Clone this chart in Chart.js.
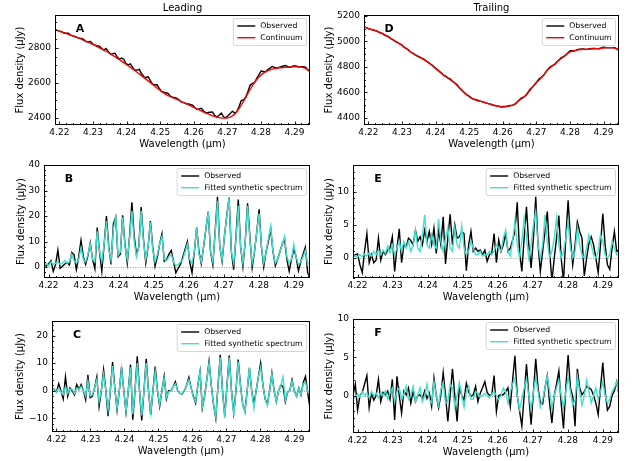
<!DOCTYPE html>
<html>
<head>
<meta charset="utf-8">
<script src="https://cdn.jsdelivr.net/npm/chart.js@4.4.1/dist/chart.umd.min.js"></script>
<style>
  html, body { margin: 0; padding: 0; background: #fff; }
  #fig { position: relative; width: 632px; height: 461px; }
  #fig canvas { position: absolute; left: 0; top: 0; }
</style>
</head>
<body>
<div id="fig">
  <canvas id="panelA" width="632" height="461"></canvas>
  <canvas id="panelB" width="632" height="461"></canvas>
  <canvas id="panelC" width="632" height="461"></canvas>
  <canvas id="panelD" width="632" height="461"></canvas>
  <canvas id="panelE" width="632" height="461"></canvas>
  <canvas id="panelF" width="632" height="461"></canvas>
</div>
<script>
'use strict';

/* =====================================================
   Wavelength grid (µm) — one sample per detector pixel
===================================================== */
const WL_START = 4.2187;
const WL_STEP = 0.00066;
const N_PIX = 116;
const WAVELENGTH = Array.from({ length: N_PIX }, (_, i) => +(WL_START + i * WL_STEP).toFixed(5));

const X_MIN = 4.2187, X_MAX = 4.2946;
const X_TICKS = [4.22, 4.23, 4.24, 4.25, 4.26, 4.27, 4.28, 4.29];

/* =====================================================
   Leading hemisphere
===================================================== */
// fitted continuum (µJy)
const LEAD_CONTINUUM = [
  2904, 2900, 2895, 2891, 2887, 2883, 2878, 2874, 2869, 2864,
  2859, 2854, 2849, 2843, 2837, 2832, 2826, 2820, 2814, 2808,
  2801, 2795, 2788, 2781, 2774, 2766, 2758, 2750, 2742, 2734,
  2725, 2716, 2707, 2698, 2689, 2680, 2671, 2661, 2652, 2642,
  2632, 2622, 2612, 2602, 2592, 2582, 2572, 2562, 2552, 2543,
  2535, 2528, 2522, 2516, 2511, 2506, 2500, 2494, 2488, 2482,
  2476, 2470, 2464, 2458, 2452, 2446, 2440, 2434, 2428, 2423,
  2418, 2413, 2409, 2405, 2402, 2400, 2399, 2399, 2401, 2405,
  2412, 2422, 2436, 2453, 2473, 2495, 2518, 2541, 2563, 2584,
  2603, 2620, 2634, 2646, 2656, 2664, 2670, 2675, 2679, 2682,
  2684, 2686, 2687, 2688, 2689, 2690, 2691, 2692, 2692, 2692,
  2692, 2691, 2688, 2683, 2676, 2669
];
// continuum-subtracted spectrum (µJy)
const LEAD_RESID_OBS = [
  1.0, 0.4, 1.2, 2.5, -1.7, 1.0, 6.6, -0.5, 0.3, 1.2,
  1.8, 0.8, 5.7, 4.8, -1.0, 4.0, 10.5, 4.0, 1.0, 4.5,
  9.5, 3.0, -0.7, 15.5, 6.0, -1.7, 9.0, 20.0, 8.0, 1.0,
  17.0, 19.5, 4.0, 5.0, 20.3, 9.0, 1.5, 12.0, 25.4, 12.0,
  4.8, 8.0, 23.5, 11.0, 1.6, 8.0, 18.0, 8.0, 0.3, 4.0,
  9.0, 13.0, 2.2, 3.0, 5.0, 6.5, 2.0, -2.3, -0.5, 1.0,
  4.0, 7.0, 10.0, 2.0, -2.3, 6.0, 15.5, 6.0, 1.3, 8.0,
  15.0, 21.7, 6.0, 0.9, 14.0, 27.5, 8.0, 2.2, 12.0, 20.0,
  27.2, 6.0, -1.0, 12.0, 26.5, 8.0, 0.2, 10.0, 25.0, 12.0,
  -0.2, 6.0, 14.0, 22.6, 8.0, 0.0, 6.0, 10.0, 15.2, 6.0,
  0.5, 3.0, 6.0, 9.0, 11.0, 3.0, -1.7, 3.0, 7.0, 4.0,
  -1.5, 2.0, 5.0, 7.8, -2.3, -4.0
];
const LEAD_RESID_FIT = [
  0.5, 1.5, 0.5, 2.0, 1.0, 1.5, 2.0, 1.0, 1.5, 2.5,
  1.5, 2.0, 5.0, 2.5, 1.5, 3.0, 7.5, 3.0, 2.0, 5.0,
  9.0, 3.0, 2.0, 14.0, 6.0, 2.0, 9.0, 18.0, 7.0, 2.5,
  15.0, 19.5, 4.5, 6.0, 19.5, 8.0, 3.0, 11.0, 22.0, 10.0,
  4.0, 8.0, 22.0, 10.0, 3.0, 8.0, 17.5, 7.0, 2.0, 5.0,
  9.0, 12.0, 3.0, 2.5, 4.0, 5.0, 2.0, 0.5, 1.0, 2.0,
  3.0, 6.0, 9.0, 3.0, 1.5, 6.0, 15.5, 5.0, 2.0, 8.0,
  15.0, 21.5, 6.0, 2.0, 13.0, 26.0, 8.0, 3.0, 12.0, 20.0,
  27.0, 6.0, 1.5, 11.0, 24.0, 8.0, 1.5, 10.0, 24.0, 11.0,
  1.5, 6.0, 14.0, 21.0, 8.0, 1.5, 6.0, 11.0, 16.0, 6.0,
  1.5, 3.0, 6.0, 9.0, 12.0, 4.0, 1.5, 3.0, 9.0, 4.0,
  1.0, 2.0, 4.0, 6.5, 1.0, 2.0
];
// line residuals after removing the broad baseline (µJy)
const LEAD_DETREND_OBS = [
  0.3, 0.5, -0.5, 2.5, 0.0, -3.0, 5.0, -2.0, 1.0, 0.0,
  -1.5, 2.2, 0.5, 2.2, 0.0, -3.3, 5.8, -2.5, -2.0, 1.0,
  5.0, -5.7, 0.0, 7.6, 0.0, -9.3, 0.0, 10.4, 1.0, -7.0,
  0.0, 8.7, 0.0, -7.8, 0.0, 9.5, -10.5, 0.0, 12.5, 0.0,
  -10.8, 0.0, 11.6, 0.0, -8.7, 0.0, 8.8, 0.0, -5.7, 0.0,
  5.2, -3.0, 0.0, 0.0, 1.5, 3.2, 0.0, -1.0, -1.2, 0.0,
  2.0, 4.8, 1.0, -2.0, -4.5, 2.0, 7.0, -6.3, -2.0, 4.0,
  10.7, 2.0, -5.0, -10.0, 2.0, 13.0, 0.0, -9.3, 2.0, 12.8,
  0.0, -8.0, 0.0, 11.3, 2.0, -5.0, -7.5, 0.0, 8.2, 0.0,
  -5.0, 0.0, 5.0, 10.0, 2.0, -3.0, -5.0, 0.0, 6.4, 0.0,
  -4.0, 0.0, 2.0, 1.5, -4.0, -0.5, 0.0, 4.0, 0.0, -2.0,
  1.0, -1.5, 3.0, 5.2, -1.0, -6.3
];
const LEAD_DETREND_FIT = [
  0.0, 0.5, -0.5, 1.0, -0.5, -1.5, 1.5, -1.0, 0.5, 0.5,
  -1.0, 1.0, 0.5, 1.5, 0.0, -2.0, 3.5, -2.0, -1.5, 1.0,
  4.0, -4.0, 0.0, 6.0, 0.0, -7.0, 0.0, 9.0, 0.5, -6.5,
  0.0, 8.0, 0.0, -7.5, 0.0, 8.5, -8.5, 0.0, 10.0, 0.0,
  -9.0, 0.0, 10.0, 0.0, -8.0, 0.0, 7.0, 0.0, -5.0, 0.0,
  4.5, -2.5, -0.5, 0.0, 1.5, 2.5, 0.0, -1.0, -1.0, 0.0,
  2.0, 4.0, 1.0, -2.5, -4.0, 2.0, 7.0, -6.0, -2.0, 4.0,
  10.0, 2.0, -5.0, -9.5, 2.0, 12.0, 0.0, -10.0, 2.0, 12.0,
  0.0, -9.0, 0.0, 10.5, 2.0, -5.0, -8.0, 0.0, 8.5, 0.0,
  -6.5, 0.0, 5.0, 8.5, 2.0, -3.0, -5.5, 0.0, 6.0, 0.0,
  -4.0, 0.0, 2.0, 5.0, -3.5, -0.5, 0.0, 3.5, 0.0, -2.0,
  1.0, -1.5, 2.5, 3.0, -0.5, 0.5
];

/* =====================================================
   Trailing hemisphere
===================================================== */
const TRAIL_CONTINUUM = [
  5115, 5108, 5100, 5096, 5092, 5085, 5078, 5071, 5064, 5055,
  5045, 5035, 5024, 5013, 5002, 4992, 4981, 4970, 4957, 4944,
  4930, 4917, 4905, 4895, 4884, 4875, 4866, 4856, 4845, 4833,
  4820, 4806, 4791, 4776, 4762, 4747, 4732, 4720, 4708, 4697,
  4685, 4670, 4652, 4633, 4615, 4598, 4583, 4570, 4558, 4549,
  4541, 4535, 4530, 4526, 4521, 4515, 4510, 4505, 4500, 4495,
  4490, 4487, 4485, 4485, 4487, 4490, 4493, 4497, 4505, 4518,
  4535, 4548, 4560, 4577, 4597, 4618, 4640, 4662, 4680, 4697,
  4715, 4735, 4758, 4778, 4793, 4808, 4822, 4838, 4853, 4866,
  4880, 4895, 4908, 4918, 4923, 4927, 4931, 4934, 4936, 4938,
  4938, 4939, 4940, 4941, 4942, 4943, 4944, 4946, 4948, 4950,
  4951, 4951, 4950, 4948, 4940, 4930
];
const TRAIL_RESID_OBS = [
  0.2, 0.5, 0.6, -1.0, -2.2, 1.0, 3.7, -0.7, 0.5, -0.7,
  -0.3, 3.0, -0.3, 1.0, 0.5, 1.2, 1.5, 3.2, -2.0, 1.5,
  4.4, -0.7, 2.0, 1.7, 3.0, 2.6, 2.0, 4.2, 2.5, 3.2,
  2.0, 4.2, 2.5, 4.0, 2.0, 4.5, 0.7, 4.2, 2.0, 6.2,
  -0.9, 3.0, 6.6, 2.0, 5.0, 3.0, 3.2, 4.0, 3.7, -1.9,
  2.0, 4.0, 1.0, 1.5, 1.0, 1.2, 0.5, 1.2, -0.5, 0.5,
  0.8, 3.7, -0.7, 2.7, 1.0, 2.0, 3.7, 1.0, 1.5, 2.7,
  4.0, 8.4, 1.0, -2.0, 3.0, 7.7, 2.0, -1.5, 3.0, 9.2,
  2.0, -2.0, 1.0, 4.0, 7.0, 1.0, -3.5, 0.0, 3.0, 6.4,
  0.0, -3.5, 3.0, 8.7, 3.0, -1.0, 2.0, 5.4, 4.0, 3.0,
  -2.7, 0.0, 2.2, 3.2, 2.0, 0.0, -2.2, 2.0, 6.7, 2.0,
  -1.0, -1.7, 1.5, 4.0, 1.0, 1.2
];
const TRAIL_RESID_FIT = [
  0.3, 0.3, 0.2, 0.5, 0.2, 0.6, 0.3, 0.8, 0.3, 1.0,
  0.5, 1.2, 0.5, 1.2, 0.7, 1.8, 0.8, 2.0, 0.5, 1.5,
  2.5, 1.0, 2.5, 1.5, 2.5, 1.0, 2.0, 4.2, 1.5, 1.0,
  3.5, 6.5, 2.0, 1.5, 3.5, 2.0, 1.5, 5.9, 2.5, 1.0,
  3.0, 4.5, 1.5, 1.0, 4.5, 2.0, 1.5, 4.8, 1.5, 0.5,
  1.0, 2.5, 1.5, 0.5, 0.5, 1.0, 0.3, 0.5, 0.5, 1.0,
  0.5, 1.0, 2.0, 1.5, 1.0, 3.0, 4.2, 1.0, 0.3, 2.5,
  5.5, 2.0, 0.0, 2.5, 6.0, 3.0, 0.0, 2.0, 5.0, 7.0,
  2.0, 0.0, 2.0, 6.5, 2.5, 0.0, 1.0, 3.0, 6.0, 2.0,
  0.0, 1.0, 3.0, 5.5, 1.5, 0.0, 1.0, 4.5, 2.0, 0.5,
  0.0, 1.5, 3.5, 2.0, 0.5, 0.0, 1.0, 3.5, 2.5, 0.5,
  0.0, 0.5, 2.5, 1.5, 0.5, 1.0
];
const TRAIL_DETREND_OBS = [
  0.0, 1.5, -1.9, 0.0, 0.4, 1.5, 2.6, -1.6, 0.3, -0.6,
  0.0, 2.1, -0.8, 0.4, 0.1, 0.6, -0.5, 2.1, -3.2, 2.5,
  0.0, -2.3, 0.6, 0.1, 1.0, -1.0, 0.6, -0.8, 0.0, 0.1,
  -0.4, 0.6, -0.4, 0.3, -1.4, 2.3, 0.0, -1.6, 0.1, 3.0,
  0.0, -3.4, 0.0, 3.5, 0.0, -3.4, 1.2, 0.0, -0.6, 1.6,
  0.5, -0.1, 0.1, 1.2, -0.8, 0.3, 1.0, 1.8, 0.4, 0.0,
  0.1, 2.6, -2.1, 0.0, 0.1, 0.1, 0.5, 1.0, -1.4, 2.0,
  5.2, 0.0, -2.0, -4.0, 0.0, 4.1, 0.0, -3.8, 0.5, 4.8,
  1.0, -1.0, -1.1, 1.0, 2.6, -1.0, -3.6, 0.0, 1.5, 3.2,
  -1.0, -4.3, 1.0, 5.3, 1.0, -0.1, -4.0, 3.5, 1.0, 0.1,
  0.5, 1.2, 1.0, 0.8, 0.0, -1.0, -2.5, 1.0, 4.3, 0.5,
  -1.9, -1.4, 0.0, 0.6, 1.8, 0.1
];
const TRAIL_DETREND_FIT = [
  -0.2, -0.3, 0.2, -0.2, 0.5, 0.0, 0.3, -0.3, 0.5, 0.0,
  0.3, -0.3, 0.4, 0.0, 0.6, -0.5, 0.3, 1.0, -0.8, 0.5,
  1.0, -0.5, 0.2, 1.2, -0.5, 0.0, 1.2, -0.8, 0.0, 1.0,
  -0.8, 0.0, 1.5, -0.5, -1.0, 1.8, 0.0, -1.3, 0.8, 1.7,
  -1.0, -0.8, 1.5, 1.0, -1.5, 0.0, 1.7, 0.0, -1.5, 0.5,
  1.2, -0.5, -0.5, 0.5, 0.3, -0.2, 0.0, 0.3, 0.0, -0.3,
  0.2, 0.5, 0.0, -0.5, 0.0, 1.0, 0.5, -1.0, 0.5, 1.5,
  2.3, 0.0, -1.8, -0.5, 1.0, 2.2, 0.0, -1.8, 0.5, 2.4,
  0.5, -1.5, -0.5, 1.0, 2.5, 0.5, -1.7, 0.0, 1.0, 2.0,
  0.0, -1.5, 0.5, 2.4, 0.5, -1.3, -0.5, 2.5, 0.5, -1.3,
  0.0, 2.0, 0.5, -1.0, 0.0, 1.0, -0.5, 0.5, 1.8, 0.0,
  -1.0, -0.5, 0.5, 1.0, 1.8, 0.0
];

// observed flux = continuum + continuum-subtracted spectrum
const LEAD_OBSERVED = LEAD_CONTINUUM.map((c, i) => c + LEAD_RESID_OBS[i]);
const TRAIL_OBSERVED = TRAIL_CONTINUUM.map((c, i) => c + TRAIL_RESID_OBS[i]);

/* y tick labels per panel */
const A_Y_TICKS = [2400, 2600, 2800];
const B_Y_TICKS = [0, 10, 20, 30, 40];
const C_Y_TICKS = [-10, 0, 10, 20];
const D_Y_TICKS = [4400, 4600, 4800, 5000, 5200];
const E_Y_TICKS = [0, 5, 10];
const F_Y_TICKS = [0, 5, 10];

/* =====================================================
   Styles
===================================================== */
const FONT = "'DejaVu Sans', sans-serif";
const OBS_COLOR = '#000000';
const CONT_COLOR = '#ff0000';
const FIT_COLOR = '#40e0d0';
const LINE_W = 1.4;
const Y_TITLE = 'Flux density (\u03bcJy)';
const X_TITLE = 'Wavelength (\u03bcm)';

const PANELS = [
  { id: 'panelA', letter: 'A', head: 'Leading', area: [55, 15, 310, 125], titleX: 20,
    yRange: [2360, 2988], yTicks: A_Y_TICKS, yMinor: 50, zero: false,
    series: [['Observed', LEAD_OBSERVED, OBS_COLOR], ['Continuum', LEAD_CONTINUUM, CONT_COLOR]] },
  { id: 'panelB', letter: 'B', area: [44, 165, 310, 278], titleX: 21,
    yRange: [-4.3, 40], yTicks: B_Y_TICKS, yMinor: 2, zero: true,
    series: [['Observed', LEAD_RESID_OBS, OBS_COLOR], ['Fitted synthetic spectrum', LEAD_RESID_FIT, FIT_COLOR]] },
  { id: 'panelC', letter: 'C', area: [52, 321, 310, 432], titleX: 20.5,
    yRange: [-15, 25.3], yTicks: C_Y_TICKS, yMinor: 2, zero: true,
    series: [['Observed', LEAD_DETREND_OBS, OBS_COLOR], ['Fitted synthetic spectrum', LEAD_DETREND_FIT, FIT_COLOR]] },
  { id: 'panelD', letter: 'D', head: 'Trailing', area: [364, 15, 619, 125], titleX: 329,
    yRange: [4342, 5208], yTicks: D_Y_TICKS, yMinor: 50, zero: false,
    series: [['Observed', TRAIL_OBSERVED, OBS_COLOR], ['Continuum', TRAIL_CONTINUUM, CONT_COLOR]] },
  { id: 'panelE', letter: 'E', area: [353, 165, 619, 278], titleX: 329,
    yRange: [-3, 14], yTicks: E_Y_TICKS, yMinor: 1, zero: true,
    series: [['Observed', TRAIL_RESID_OBS, OBS_COLOR], ['Fitted synthetic spectrum', TRAIL_RESID_FIT, FIT_COLOR]] },
  { id: 'panelF', letter: 'F', area: [353, 319, 619, 433], titleX: 329,
    yRange: [-4.9, 10], yTicks: F_Y_TICKS, yMinor: 1, zero: true,
    series: [['Observed', TRAIL_DETREND_OBS, OBS_COLOR], ['Fitted synthetic spectrum', TRAIL_DETREND_FIT, FIT_COLOR]] }
];

const X_AXIS_H = 25;

/* minor tick values between min and max, skipping the majors */
function minorValues(min, max, step, majors) {
  const out = [];
  for (let k = Math.ceil(min / step - 1e-9); k * step <= max + 1e-9; k++) {
    const v = k * step;
    if (!majors.some(m => Math.abs(m - v) < step * 1e-3)) out.push(v);
  }
  return out;
}

/* =====================================================
   Frame, inward ticks, zero line, legend, panel letter
===================================================== */
const panelDecor = {
  id: 'panelDecor',
  beforeDatasetsDraw(chart, args, o) {
    if (!o.zero) return;
    const { ctx, chartArea: a, scales: { y } } = chart;
    const py = Math.round(y.getPixelForValue(0)) + 0.5;
    ctx.save();
    ctx.strokeStyle = '#8c8c8c'; ctx.lineWidth = 0.8; ctx.setLineDash([1, 1.4]);
    ctx.beginPath(); ctx.moveTo(a.left, py); ctx.lineTo(a.right, py); ctx.stroke();
    ctx.restore();
  },
  afterDraw(chart, args, o) {
    const { ctx, chartArea: a, scales: { x, y } } = chart;
    ctx.save();

    // ticks on the left and bottom spines, pointing in
    ctx.strokeStyle = '#000'; ctx.lineWidth = 0.9;
    const tick = (px, py, dx, dy) => { ctx.beginPath(); ctx.moveTo(px, py); ctx.lineTo(px + dx, py + dy); ctx.stroke(); };
    X_TICKS.forEach(v => tick(Math.round(x.getPixelForValue(v)) + 0.5, a.bottom, 0, -3.5));
    minorValues(X_MIN, X_MAX, 0.002, X_TICKS).forEach(v => tick(Math.round(x.getPixelForValue(v)) + 0.5, a.bottom, 0, -2));
    o.yTicks.forEach(v => tick(a.left, Math.round(y.getPixelForValue(v)) + 0.5, 3.5, 0));
    minorValues(y.min, y.max, o.yMinor, o.yTicks).forEach(v => tick(a.left, Math.round(y.getPixelForValue(v)) + 0.5, 2, 0));

    // frame
    ctx.lineWidth = 1;
    ctx.strokeRect(a.left + 0.5, a.top + 0.5, a.right - a.left - 1, a.bottom - a.top - 1);

    // legend box, upper right
    const sets = chart.data.datasets;
    ctx.font = '7.7px ' + FONT;
    const textW = Math.max(...sets.map(d => ctx.measureText(d.label).width));
    const w = textW + 31, h = 27;
    const bx = a.right - 3.5 - w, by = a.top + 3.5;
    ctx.beginPath();
    ctx.roundRect(bx, by, w, h, 2);
    ctx.fillStyle = 'rgba(255,255,255,0.8)'; ctx.fill();
    ctx.strokeStyle = '#cccccc'; ctx.lineWidth = 0.8; ctx.stroke();
    sets.forEach((d, k) => {
      const ry = by + 7.5 + k * 11.7;
      ctx.strokeStyle = d.borderColor; ctx.lineWidth = LINE_W;
      ctx.beginPath(); ctx.moveTo(bx + 4, ry); ctx.lineTo(bx + 22, ry); ctx.stroke();
      ctx.fillStyle = '#000'; ctx.textAlign = 'left'; ctx.textBaseline = 'middle';
      ctx.fillText(d.label, bx + 27, ry + 0.5);
    });

    // panel letter
    ctx.font = 'bold 11px ' + FONT;
    ctx.fillStyle = '#000'; ctx.textAlign = 'center'; ctx.textBaseline = 'middle';
    ctx.fillText(o.letter, a.left + 25, a.top + 14);

    // column heading
    if (o.head) {
      ctx.font = '10px ' + FONT;
      ctx.fillText(o.head, (a.left + a.right) / 2, a.top - 6.5);
    }
    ctx.restore();
  }
};

/* =====================================================
   Build one chart per panel
===================================================== */
function makePanel(p) {
  const [l, t, r, b] = p.area;
  const padL = p.titleX - 6;
  const fmtY = v => (v < 0 ? '\u2212' + Math.abs(v) : String(v));

  return new Chart(document.getElementById(p.id), {
    type: 'line',
    data: {
      datasets: p.series.map(([label, vals, color], k) => ({
        label,
        data: WAVELENGTH.map((w, i) => ({ x: w, y: vals[i] })),
        borderColor: color, borderWidth: LINE_W,
        pointRadius: 0, tension: 0, fill: false,
        order: k === 0 ? 2 : 1
      }))
    },
    options: {
      responsive: false, animation: false, devicePixelRatio: 1,
      layout: { padding: { left: padL, top: t, right: 632 - r, bottom: 461 - b - X_AXIS_H } },
      plugins: {
        legend: { display: false },
        tooltip: { enabled: false },
        panelDecor: { letter: p.letter, head: p.head, zero: p.zero, yTicks: p.yTicks, yMinor: p.yMinor }
      },
      scales: {
        x: {
          type: 'linear', min: X_MIN, max: X_MAX,
          afterBuildTicks: s => { s.ticks = X_TICKS.map(v => ({ value: v })); },
          afterFit: s => { s.height = X_AXIS_H; },
          grid: { display: false, drawTicks: false }, border: { display: false },
          ticks: { color: '#000', font: { family: FONT, size: 9 }, padding: 2, maxRotation: 0,
                   autoSkip: false, callback: v => v.toFixed(2) },
          title: { display: true, text: X_TITLE, color: '#000', font: { family: FONT, size: 10 }, padding: 0 }
        },
        y: {
          type: 'linear', min: p.yRange[0], max: p.yRange[1],
          afterBuildTicks: s => { s.ticks = p.yTicks.map(v => ({ value: v })); },
          afterFit: s => { s.width = l - padL; },
          grid: { display: false, drawTicks: false }, border: { display: false },
          ticks: { color: '#000', font: { family: FONT, size: 9 }, padding: 4, autoSkip: false, callback: fmtY },
          title: { display: true, text: Y_TITLE, color: '#000', font: { family: FONT, size: 10 }, padding: 0 }
        }
      }
    },
    plugins: [panelDecor]
  });
}

PANELS.forEach(makePanel);
</script>
</body>
</html>
